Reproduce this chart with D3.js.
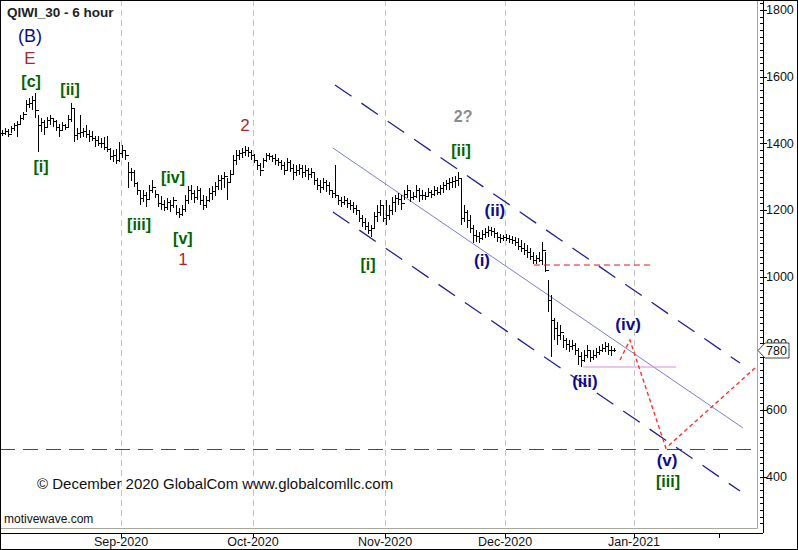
<!DOCTYPE html>
<html><head><meta charset="utf-8">
<script src="https://cdn.jsdelivr.net/npm/d3@7"></script>
<style>html,body{margin:0;padding:0;background:#fff;}svg{display:block;font-family:"Liberation Sans",Arial,sans-serif;}</style>
</head><body>
<svg id="c" width="798" height="550"></svg>
<script>
// ---- data (6-hour bars, index based) ----
const high = [1440,1446,1443,1452,1461,1467,1485,1494,1530,1536,1542,1551,1485,1476,1470,1479,1485,1476,1470,1458,
1464,1458,1485,1521,1506,1446,1485,1446,1455,1440,1437,1422,1422,1416,1419,1422,1386,1380,1383,1404,
1395,1380,1344,1326,1320,1284,1260,1260,1254,1275,1290,1260,1245,1242,1230,1236,1230,1239,1215,1206,
1215,1245,1272,1275,1260,1272,1266,1245,1242,1266,1272,1284,1305,1305,1314,1296,1320,1365,1380,1380,
1386,1392,1389,1380,1368,1350,1341,1356,1371,1371,1365,1368,1356,1350,1344,1356,1350,1338,1335,1338,
1335,1335,1326,1326,1314,1296,1290,1296,1290,1284,1260,1335,1245,1239,1242,1236,1230,1224,1215,1200,
1185,1176,1164,1155,1194,1215,1230,1215,1230,1215,1239,1245,1251,1245,1260,1275,1260,1254,1275,1266,
1260,1254,1266,1260,1272,1269,1275,1284,1290,1296,1299,1302,1314,1296,1215,1200,1185,1155,1140,1134,
1140,1146,1152,1149,1146,1134,1128,1125,1128,1125,1122,1119,1116,1110,1101,1095,1086,1074,1065,1074,
1104,1074,990,945,876,864,855,825,816,810,810,801,786,774,780,795,780,780,786,792,798,804,801,792,786];
const low = [1422,1425,1419,1431,1437,1419,1455,1470,1494,1506,1500,1476,1374,1434,1425,1446,1455,1449,1437,1419,
1437,1440,1449,1464,1404,1410,1416,1419,1416,1404,1407,1389,1392,1386,1380,1374,1350,1344,1338,1344,
1356,1350,1266,1287,1269,1245,1215,1224,1209,1230,1251,1236,1209,1200,1197,1200,1194,1206,1185,1176,
1182,1194,1218,1230,1221,1230,1215,1200,1206,1224,1230,1242,1260,1260,1266,1230,1284,1305,1335,1350,
1356,1362,1359,1350,1341,1320,1302,1326,1344,1350,1344,1335,1332,1320,1305,1320,1314,1290,1302,1305,
1296,1299,1290,1296,1275,1260,1251,1260,1254,1245,1236,1236,1215,1209,1215,1206,1200,1191,1185,1164,
1149,1140,1128,1119,1146,1164,1182,1164,1155,1170,1185,1194,1215,1200,1230,1236,1224,1230,1236,1224,
1230,1230,1239,1236,1242,1245,1245,1251,1260,1260,1266,1266,1272,1155,1164,1146,1131,1101,1104,1101,
1110,1116,1119,1122,1116,1104,1101,1107,1107,1101,1098,1092,1080,1074,1065,1056,1050,1038,1038,1044,
1035,1014,894,759,810,795,810,786,780,774,780,765,735,729,744,756,744,750,756,765,774,774,765,762,774];
const close = [1431,1437,1428,1446,1455,1458,1476,1488,1518,1521,1530,1500,1455,1464,1449,1470,1476,1467,1449,1440,
1455,1449,1473,1506,1425,1431,1434,1437,1428,1422,1416,1410,1401,1401,1389,1383,1362,1365,1350,1371,
1380,1365,1314,1314,1281,1260,1236,1245,1233,1260,1269,1248,1221,1218,1209,1224,1215,1230,1194,1188,
1203,1230,1260,1251,1239,1260,1230,1215,1230,1251,1257,1272,1290,1296,1302,1284,1308,1350,1365,1371,
1374,1380,1374,1365,1350,1335,1320,1350,1365,1362,1356,1350,1344,1335,1320,1344,1326,1314,1320,1326,
1314,1320,1308,1314,1290,1275,1269,1284,1275,1260,1251,1245,1230,1224,1230,1221,1215,1206,1200,1176,
1164,1152,1140,1146,1182,1194,1215,1176,1185,1200,1224,1236,1233,1221,1248,1260,1239,1242,1260,1245,
1245,1242,1254,1248,1260,1254,1266,1275,1281,1284,1287,1290,1296,1176,1194,1170,1146,1125,1122,1116,
1128,1134,1140,1137,1131,1119,1116,1119,1116,1113,1110,1104,1092,1086,1080,1074,1062,1050,1056,1050,
1080,1020,930,870,846,825,834,810,798,792,795,780,762,750,765,780,759,765,774,780,786,792,780,780,780];

const yTicks = [400,600,800,1000,1200,1400,1600,1800];
const monthLabels = ["Sep-2020","Oct-2020","Nov-2020","Dec-2020","Jan-2021",""];
const monthPos = [39.67,83.67,127.67,167.67,210.67,239];

// channel lines [barIndex, price]
const upperChannel = [[111,1575],[246,741]];
const middleChannel = [[110.3,1386],[247,546]];
const lowerChannel = [[110.3,1194],[246,357]];
const projection = [[206,750],[209.3,810],[221.3,486],[251,726]];
const breakLevel = [[177.3,1035],[216.3,1035]];
const iiiLow = [[193.7,729],[224.7,729]];
const targetLevel = 483;
const lastPrice = 780;

const waveLabels = [
 {t:"(B)",i:9.3,v:1704,k:"b",s:18,w:"normal"},
 {t:"E",i:9.3,v:1638,k:"r",s:17,w:"normal"},
 {t:"[c]",i:9.7,v:1569,k:"g",s:16,w:"bold"},
 {t:"[ii]",i:22.7,v:1545,k:"g",s:16,w:"bold"},
 {t:"[i]",i:13,v:1314,k:"g",s:16,w:"bold"},
 {t:"2",i:81,v:1437,k:"r",s:17,w:"normal"},
 {t:"[iv]",i:57,v:1281,k:"g",s:16,w:"bold"},
 {t:"[iii]",i:45.7,v:1140,k:"g",s:16,w:"bold"},
 {t:"[v]",i:60.3,v:1098,k:"g",s:16,w:"bold"},
 {t:"1",i:60.3,v:1035,k:"r",s:17,w:"normal"},
 {t:"2?",i:153.7,v:1464,k:"gr",s:16,w:"bold"},
 {t:"[ii]",i:153,v:1362,k:"g",s:16,w:"bold"},
 {t:"[i]",i:122,v:1020,k:"g",s:16,w:"bold"},
 {t:"(ii)",i:164.3,v:1182,k:"b",s:17,w:"bold"},
 {t:"(i)",i:160,v:1032,k:"b",s:17,w:"bold"},
 {t:"(iv)",i:208.7,v:840,k:"b",s:17,w:"bold"},
 {t:"(iii)",i:194.3,v:669,k:"b",s:17,w:"bold"},
 {t:"(v)",i:221.7,v:432,k:"b",s:17,w:"bold"},
 {t:"[iii]",i:222,v:369,k:"g",s:16,w:"bold"}
];
const colors = {b:"#0d0d8a",r:"#a52a2a",g:"#006400",gr:"#8c8c8c"};

// ---- layout ----
const svg = d3.select("#c");
const plotR = 757, plotB = 528, axisX = 763, axisY = 533;
const x = d3.scaleLinear().domain([0,250]).range([2,752]);
const y = d3.scaleLinear().domain([400,1800]).range([476.7,10]);

svg.append("rect").attr("x",0).attr("y",0).attr("width",798).attr("height",550).attr("fill","#fff");

// vertical month grid
svg.append("g").selectAll("line").data(monthPos.slice(0,5)).join("line")
  .attr("x1",d=>Math.round(x(d))+0.5).attr("x2",d=>Math.round(x(d))+0.5)
  .attr("y1",0).attr("y2",plotB)
  .attr("stroke","#c4c4c4").attr("stroke-dasharray","6,4");

// plot frame (gray)
svg.append("path").attr("d",`M0,${plotB+0.5}H${plotR+0.5}V0`).attr("fill","none").attr("stroke","#a8a898");

// green target level
svg.append("line").attr("x1",0).attr("x2",plotR).attr("y1",Math.round(y(targetLevel))+0.5).attr("y2",Math.round(y(targetLevel))+0.5)
  .attr("stroke","#0a780a").attr("stroke-width",1.2).attr("stroke-dasharray","15,8");

const line = d3.line().x(d=>x(d[0])).y(d=>y(d[1]));
// channel
svg.append("path").attr("d",line(middleChannel)).attr("fill","none").attr("stroke","#7d7dd0").attr("stroke-width",1);
[upperChannel,lowerChannel].forEach(c=>{
  svg.append("path").attr("d",line(c)).attr("fill","none").attr("stroke","#20209c").attr("stroke-width",1.3).attr("stroke-dasharray","20,12");
});

// price bars
const g = svg.append("g").attr("stroke","#000").attr("stroke-width",1).attr("shape-rendering","crispEdges");
close.forEach((c,i)=>{
  const xx = Math.round(x(i))+0.5;
  const o = i>0 ? close[i-1] : c;
  g.append("line").attr("x1",xx).attr("x2",xx).attr("y1",y(high[i])).attr("y2",y(low[i]));
  g.append("line").attr("x1",xx-1.5).attr("x2",xx).attr("y1",Math.round(y(o))+0.5).attr("y2",Math.round(y(o))+0.5);
  g.append("line").attr("x1",xx).attr("x2",xx+1.5).attr("y1",Math.round(y(c))+0.5).attr("y2",Math.round(y(c))+0.5);
});

// levels
svg.append("path").attr("d",line(breakLevel)).attr("stroke","#e8141e").attr("stroke-width",1).attr("stroke-dasharray","6,4").attr("fill","none");
svg.append("path").attr("d",line(iiiLow)).attr("stroke","#d890d8").attr("stroke-width",1).attr("fill","none");
svg.append("path").attr("d",line(projection)).attr("stroke","#ff3030").attr("stroke-width",1.4).attr("stroke-dasharray","4,3").attr("fill","none");

// wave labels
svg.append("g").selectAll("text").data(waveLabels).join("text")
  .attr("x",d=>x(d.i)).attr("y",d=>y(d.v)).attr("text-anchor","middle")
  .attr("font-size",d=>d.s).attr("font-weight",d=>d.w).attr("fill",d=>colors[d.k]).text(d=>d.t);

// titles
svg.append("text").attr("x",7).attr("y",17).attr("font-size",13.5).attr("font-weight","bold").attr("fill","#222").text("QIWI_30 - 6 hour");
svg.append("text").attr("x",37).attr("y",489).attr("font-size",15).attr("fill","#111").text("© December 2020 GlobalCom www.globalcomllc.com");
svg.append("text").attr("x",4).attr("y",523).attr("font-size",12).attr("fill","#111").text("motivewave.com");

// right axis
const ax = svg.append("g");
ax.append("line").attr("x1",axisX+0.5).attr("x2",axisX+0.5).attr("y1",0).attr("y2",axisY).attr("stroke","#000");
const minor = d3.range(260,1830,20);
ax.selectAll("line.m").data(minor).join("line").attr("class","m")
  .attr("x1",axisX-3).attr("x2",d=> d%200===0 ? axisX+4 : axisX)
  .attr("y1",d=>Math.round(y(d))+0.5).attr("y2",d=>Math.round(y(d))+0.5).attr("stroke","#000");
// labels: the tick hidden under the last-price tag is shortened so it stays behind the tag
ax.selectAll("text").data(yTicks).join("text").attr("x",axisX+3).attr("y",d=>y(d)).attr("dy","0.35em")
  .attr("font-size",12.5).attr("fill","#111").text(d=>d);

// bottom axis
svg.append("line").attr("x1",0).attr("x2",axisX).attr("y1",axisY+0.5).attr("y2",axisY+0.5).attr("stroke","#000");
const bx = svg.append("g");
bx.selectAll("line").data(monthPos).join("line")
  .attr("x1",d=>Math.round(x(d))+0.5).attr("x2",d=>Math.round(x(d))+0.5).attr("y1",axisY).attr("y2",axisY+5).attr("stroke","#000");
bx.selectAll("text").data(monthPos).join("text").attr("x",d=>x(d)).attr("y",546).attr("text-anchor","middle")
  .attr("font-size",12.5).attr("fill","#111").text((d,i)=>monthLabels[i]);

// last price tag
const ly = Math.round(y(lastPrice))+0.5;
svg.append("path").attr("d",`M758,${ly}L765,${ly-7.5}H789V${ly+7.5}H765Z`).attr("fill","#fff").attr("stroke","#444");
svg.append("text").attr("x",766).attr("y",ly).attr("dy","0.36em").attr("font-size",12.5).attr("fill","#111").text(lastPrice);

// outer border
svg.append("rect").attr("x",0.5).attr("y",0.5).attr("width",797).attr("height",549).attr("fill","none").attr("stroke","#000");
</script>
</body></html>
